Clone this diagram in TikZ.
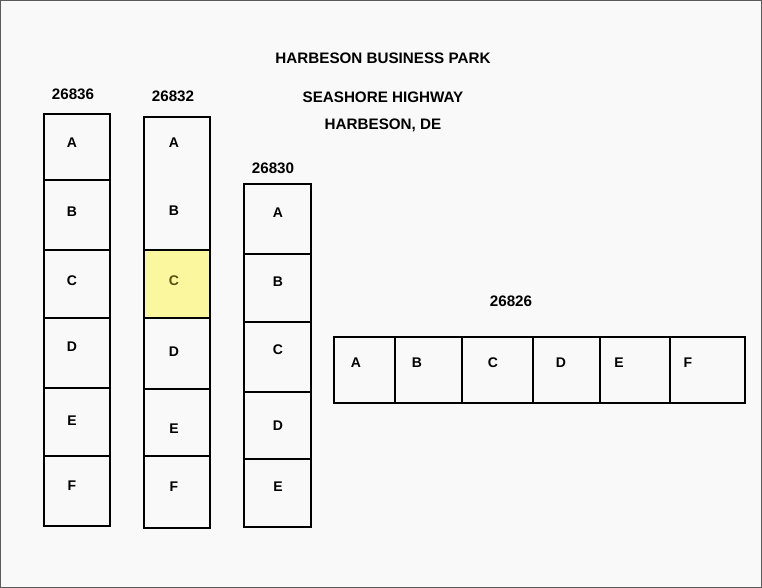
\documentclass[tikz,border=0pt]{standalone}
\usepackage{fontspec}
\setmainfont{Liberation Sans}
\usepackage{tikz}
\usetikzlibrary{positioning}

\definecolor{paper}{RGB}{249,249,249}
\definecolor{frame}{RGB}{90,90,90}
\definecolor{leased}{RGB}{251,247,158}
\definecolor{leasedtext}{RGB}{90,80,20}

\tikzset{
  wall/.style={line width=2.8pt, line cap=rect},
  unit/.style={font=\fontsize{14}{14}\selectfont\bfseries, inner sep=0pt},
  bldg/.style={font=\fontsize{15.2}{15.2}\selectfont\bfseries, inner sep=0pt},
  heading/.style={font=\fontsize{15.2}{15.2}\selectfont\bfseries, inner sep=0pt}
}

\begin{document}
\begin{tikzpicture}[x=1pt, y=-1pt]
    % Paper and frame
    \fill[paper] (0,0) rectangle (762,588);
    \useasboundingbox (0,0) rectangle (762,588);
    \draw[frame, line width=1.2pt] (0.6,0.6) rectangle (761.4,587.4);

    % Titles
    \node[heading] (park) at (383,58) {HARBESON BUSINESS PARK};
    \node[heading] (road) at (383,97) {SEASHORE HIGHWAY};
    \node[heading] (town) at (383,125) {HARBESON, DE};

    % Building numbers
    \node[bldg] (n26836) at (73,94) {26836};
    \node[bldg] (n26832) at (173,96) {26832};
    \node[bldg] (n26830) at (273,168) {26830};
    \node[bldg] (n26826) at (511,301) {26826};

    % Leased unit
    \fill[leased] (144,250) rectangle (210,318);

    % Building 26836
    \draw[wall] (44,114) rectangle (110,526);
    \foreach \y in {180, 250, 318, 388, 456} {
      \draw[wall] (44,\y) -- (110,\y);
    }
    \foreach \l/\y in {A/143, B/212, C/281, D/347, E/421, F/486} {
      \node[unit] (a-\l) at (72,\y) {\l};
    }

    % Building 26832
    \draw[wall] (144,117) rectangle (210,528);
    \foreach \y in {250, 318, 389, 456} {
      \draw[wall] (144,\y) -- (210,\y);
    }
    \foreach \l/\y in {A/143, B/211, D/352, E/429, F/487} {
      \node[unit] (b-\l) at (174,\y) {\l};
    }
    \node[unit, text=leasedtext] (b-C) at (174,281) {C};

    % Building 26830
    \draw[wall] (244,184) rectangle (311,527);
    \foreach \y in {254, 322, 392, 459} {
      \draw[wall] (244,\y) -- (311,\y);
    }
    \foreach \l/\y in {A/213, B/282, C/350, D/426, E/487} {
      \node[unit] (c-\l) at (278,\y) {\l};
    }

    % Building 26826
    \draw[wall] (334,337) rectangle (745,403);
    \foreach \x in {395, 462, 533, 600, 670} {
      \draw[wall] (\x,337) -- (\x,403);
    }
    \foreach \l/\x in {A/356, B/417, C/493, D/561, E/619, F/688} {
      \node[unit] (d-\l) at (\x,363) {\l};
    }
\end{tikzpicture}
\end{document}
